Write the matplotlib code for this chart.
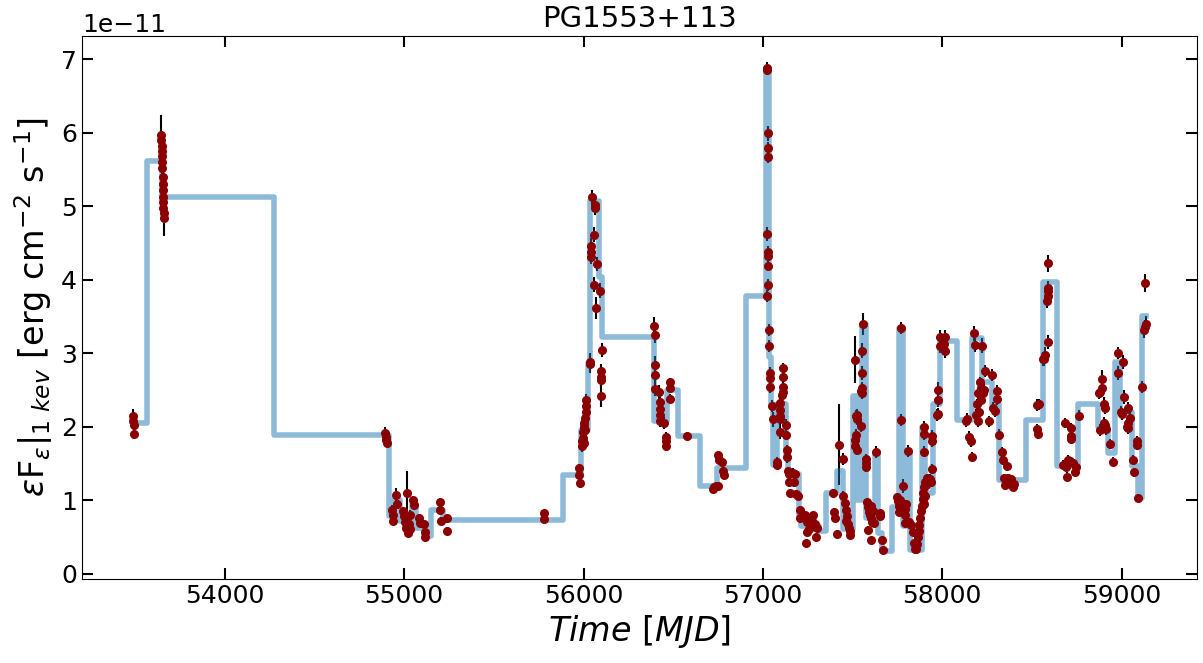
import numpy as np
import matplotlib
matplotlib.use("Agg")
import matplotlib.pyplot as plt

# curva de luz PG1553+113, flujo en unidades de 1e-11 erg cm^-2 s^-1
tiempo = [53488, 53490, 53492, 53494,
          53646, 53647, 53648, 53649, 53650, 53651, 53652, 53653, 53654, 53655, 53656, 53657, 53658, 53659, 53660,
          54896, 54898, 54900, 54902,
          54934, 54936, 54938, 54956, 54958, 54995, 55000, 55005, 55010, 55015, 55018, 55020, 55025, 55030, 55035,
          55051, 55053, 55085, 55088, 55113, 55115, 55117, 55200, 55201, 55203, 55237, 55238,
          55778, 55781,
          55976, 55977, 55978, 55990, 55993, 55996, 55999, 56000, 56002, 56005, 56008, 56010, 56012, 56014, 56016,
          56036, 56037, 56042, 56043, 56044, 56049, 56059, 56060, 56062, 56064, 56066, 56071, 56077, 56092, 56097,
          56098, 56099, 56100, 56105,
          56395, 56396, 56397, 56398, 56399, 56423, 56425, 56428, 56426, 56424, 56450, 56458, 56459, 56460, 56480,
          56482, 56481, 56579,
          56722, 56728, 56740, 56752, 56752, 56756, 56774, 56780, 56782,
          57021, 57022, 57030, 57030, 57030, 57025, 57028, 57027, 57027, 57029, 57021, 57035, 57035,
          57040, 57041, 57040, 57052, 57058, 57077, 57079, 57093, 57096, 57097, 57098, 57095, 57105, 57110, 57112,
          57114, 57113, 57129, 57130, 57133, 57134, 57140, 57148, 57170, 57180, 57148, 57175, 57150, 57185, 57195,
          57205, 57208,
          57235, 57245, 57260, 57280, 57275, 57290, 57300, 57245, 57255, 57238, 57295,
          57389, 57398, 57400, 57415, 57426, 57445, 57444, 57455, 57462, 57468, 57465, 57475, 57482, 57488, 57485,
          57513, 57520, 57523, 57526, 57545, 57518, 57516, 57514, 57522, 57546, 57550, 57552, 57551, 57553, 57560,
          57573, 57574, 57575,
          57582, 57586, 57590, 57595, 57600, 57605, 57610, 57615, 57620, 57588, 57605, 57630, 57651, 57653, 57664,
          57670,
          57772, 57772, 57783, 57807, 57750, 57755, 57765, 57760, 57758, 57790, 57800, 57795, 57793, 57815, 57825,
          57835, 57842, 57848, 57852, 57858, 57865, 57870, 57868, 57875, 57880, 57885, 57890, 57895, 57900, 57905,
          57910, 57915, 57905, 57898, 57900, 57900, 57898, 57940, 57945, 57940, 57930, 57935,
          57969, 57974, 57978, 57978, 57987, 58015, 57985, 58010, 58018,
          58132, 58140, 58150, 58158, 58164, 58178, 58183, 58220, 58238, 58208, 58215, 58200, 58225, 58232, 58218,
          58193, 58188, 58197, 58205, 58275, 58262, 58285, 58292, 58307, 58307,
          58318, 58333, 58336, 58362, 58345, 58365, 58375, 58385, 58350, 58395, 58400,
          58530, 58537, 58530, 58536, 58560, 58565, 58572, 58591, 58585, 58588, 58590, 58589, 58591,
          58684, 58715, 58718, 58720, 58675, 58690, 58700, 58710, 58728, 58745, 58742, 58695, 58764,
          58875, 58880, 58888, 58892, 58900, 58905, 58900, 58906, 58910, 58880, 58935, 58953, 58981, 58981, 59009,
          59013, 58998, 59000, 59037, 59035, 59037, 59032, 59048, 59066, 59068, 59084, 59084, 59092, 59115, 59130,
          59125, 59132, 59135]

flujo = [2.14, 2.08, 2.02, 1.90,
         5.97, 5.90, 5.82, 5.75, 5.68, 5.60, 5.52, 5.40, 5.30, 5.22, 5.12, 5.05, 4.98, 4.90, 4.84,
         1.91, 1.86, 1.82, 1.78,
         0.87, 0.80, 0.72, 1.07, 0.95, 0.85, 0.78, 0.70, 0.62, 0.75, 1.09, 0.55, 0.68, 0.80, 0.60,
         1.00, 0.93, 0.75, 0.69, 0.68, 0.57, 0.50, 0.97, 0.86, 0.72, 0.75, 0.58,
         0.82, 0.74,
         1.43, 1.34, 1.23, 1.73, 1.80, 1.85, 1.92, 1.78, 2.00, 2.05, 2.12, 1.95, 2.20, 2.28, 2.36,
         2.88, 2.85, 4.45, 4.38, 4.31, 5.12, 4.61, 3.93, 4.98, 5.02, 5.00, 3.61, 4.21, 3.85, 2.75,
         2.68, 2.64, 2.41, 3.04,
         3.37, 3.24, 2.84, 2.70, 2.51, 2.47, 2.34, 2.24, 2.16, 2.08, 2.05, 1.86, 1.80, 1.73, 2.60,
         2.52, 2.38, 1.87,
         1.15, 1.18, 1.19, 1.19, 1.61, 1.55, 1.52, 1.40, 1.34,
         6.88, 6.85, 5.99, 5.79, 5.67, 4.62, 4.38, 4.32, 4.19, 3.93, 3.78, 3.31, 3.10,
         2.73, 2.66, 2.54, 2.28, 2.10, 1.48, 1.52, 1.93, 2.32, 2.23, 2.14, 2.10, 2.43, 2.47, 2.54,
         2.79, 2.67, 2.02, 1.89, 1.68, 1.58, 1.39, 1.36, 1.37, 1.35, 1.24, 1.24, 1.10, 1.08, 1.05,
         0.87, 0.75,
         0.80, 0.70, 0.74, 0.80, 0.72, 0.68, 0.62, 0.57, 0.60, 0.42, 0.50,
         1.09, 0.84, 0.76, 0.54, 1.75, 1.56, 1.06, 0.96, 0.87, 0.78, 0.72, 0.68, 0.62, 0.58, 0.53,
         2.91, 2.14, 2.10, 2.16, 2.01, 1.89, 1.82, 1.74, 1.68, 2.49, 2.52, 2.45, 3.03, 2.73, 3.40,
         1.56, 1.50, 1.45,
         0.97, 0.90, 0.84, 0.80, 0.92, 0.75, 0.70, 0.85, 0.69, 0.59, 0.46, 1.65, 0.82, 0.78, 0.46,
         0.32,
         3.34, 2.09, 1.19, 1.67, 1.04, 0.98, 1.00, 0.92, 0.84, 0.88, 0.95, 0.80, 0.69, 0.70, 0.66,
         0.56, 0.42, 0.33, 0.33, 0.40, 0.50, 0.58, 0.66, 0.75, 0.85, 0.92, 1.02, 1.10, 1.18, 1.25,
         1.20, 1.30, 1.05, 0.95, 2.00, 1.90, 1.66, 1.87, 1.80, 1.42, 1.29, 1.25,
         2.16, 2.17, 2.50, 2.36, 3.22, 3.22, 3.10, 3.12, 3.03,
         2.07, 2.10, 1.86, 1.80, 1.59, 3.27, 3.11, 3.10, 2.76, 2.60, 2.53, 2.45, 2.45, 2.50, 2.36,
         2.30, 2.16, 2.08, 2.20, 2.70, 2.07, 2.25, 2.21, 2.49, 2.37,
         1.89, 1.65, 1.55, 1.46, 1.30, 1.30, 1.25, 1.28, 1.20, 1.18, 1.22,
         2.29, 2.30, 1.96, 1.90, 2.92, 2.92, 2.98, 3.15, 3.71, 3.78, 3.85, 3.88, 4.22,
         2.05, 1.98, 1.83, 1.87, 1.48, 1.45, 1.55, 1.53, 1.50, 1.45, 1.38, 1.32, 2.15,
         2.45, 2.47, 2.52, 2.65, 2.30, 2.25, 2.05, 2.02, 1.97, 1.95, 1.76, 1.52, 3.00, 2.73, 2.88,
         2.40, 2.20, 2.17, 2.25, 2.05, 1.98, 2.00, 2.12, 1.55, 1.38, 1.80, 1.75, 1.03, 2.54, 3.95,
         3.31, 3.35, 3.40]

err_flujo = [0.10, 0.08, 0.08, 0.07,
             0.27, 0.12, 0.12, 0.10, 0.10, 0.10, 0.10, 0.10, 0.10, 0.10, 0.10, 0.10, 0.10, 0.10, 0.25,
             0.08, 0.06, 0.06, 0.06,
             0.06, 0.06, 0.05, 0.10, 0.06, 0.06, 0.06, 0.05, 0.05, 0.06, 0.30, 0.05, 0.05, 0.06, 0.05,
             0.06, 0.06, 0.05, 0.05, 0.05, 0.05, 0.05, 0.06, 0.05, 0.05, 0.05, 0.05,
             0.05, 0.05,
             0.06, 0.06, 0.06, 0.07, 0.07, 0.07, 0.07, 0.07, 0.08, 0.08, 0.08, 0.08, 0.08, 0.08, 0.08,
             0.12, 0.12, 0.12, 0.10, 0.10, 0.10, 0.10, 0.10, 0.10, 0.10, 0.10, 0.15, 0.10, 0.10, 0.10,
             0.10, 0.10, 0.15, 0.10,
             0.12, 0.10, 0.12, 0.12, 0.10, 0.10, 0.10, 0.08, 0.08, 0.08, 0.08, 0.06, 0.06, 0.06, 0.06,
             0.06, 0.06, 0.06,
             0.05, 0.05, 0.05, 0.05, 0.06, 0.06, 0.06, 0.06, 0.06,
             0.08, 0.06, 0.10, 0.08, 0.08, 0.10, 0.08, 0.08, 0.08, 0.08, 0.08, 0.08, 0.08,
             0.08, 0.08, 0.08, 0.08, 0.10, 0.06, 0.06, 0.10, 0.08, 0.08, 0.08, 0.08, 0.08, 0.08, 0.08,
             0.08, 0.08, 0.08, 0.08, 0.07, 0.07, 0.06, 0.06, 0.06, 0.06, 0.06, 0.06, 0.05, 0.05, 0.05,
             0.05, 0.05,
             0.05, 0.05, 0.05, 0.05, 0.05, 0.05, 0.05, 0.05, 0.05, 0.04, 0.04,
             0.06, 0.05, 0.05, 0.05, 0.55, 0.08, 0.06, 0.05, 0.05, 0.05, 0.05, 0.05, 0.05, 0.05, 0.05,
             0.32, 0.08, 0.08, 0.08, 0.08, 0.08, 0.08, 0.07, 0.07, 0.08, 0.08, 0.08, 0.10, 0.10, 0.15,
             0.07, 0.07, 0.07,
             0.05, 0.05, 0.05, 0.05, 0.05, 0.05, 0.05, 0.05, 0.05, 0.05, 0.04, 0.08, 0.05, 0.05, 0.04,
             0.04,
             0.08, 0.08, 0.10, 0.08, 0.05, 0.05, 0.05, 0.05, 0.05, 0.05, 0.05, 0.05, 0.05, 0.04, 0.04,
             0.04, 0.04, 0.04, 0.04, 0.04, 0.04, 0.05, 0.05, 0.05, 0.05, 0.05, 0.05, 0.05, 0.05, 0.06,
             0.06, 0.06, 0.05, 0.05, 0.08, 0.08, 0.08, 0.08, 0.08, 0.07, 0.07, 0.07,
             0.08, 0.08, 0.10, 0.10, 0.10, 0.10, 0.10, 0.10, 0.10,
             0.08, 0.08, 0.08, 0.08, 0.07, 0.10, 0.10, 0.10, 0.08, 0.08, 0.08, 0.08, 0.08, 0.08, 0.08,
             0.08, 0.08, 0.08, 0.08, 0.08, 0.08, 0.08, 0.08, 0.08, 0.08,
             0.07, 0.07, 0.07, 0.06, 0.06, 0.06, 0.06, 0.06, 0.06, 0.06, 0.06,
             0.08, 0.08, 0.07, 0.07, 0.10, 0.10, 0.10, 0.10, 0.10, 0.10, 0.10, 0.10, 0.12,
             0.07, 0.07, 0.07, 0.07, 0.06, 0.06, 0.06, 0.06, 0.06, 0.06, 0.06, 0.06, 0.07,
             0.08, 0.08, 0.08, 0.12, 0.10, 0.08, 0.08, 0.08, 0.08, 0.08, 0.07, 0.06, 0.08, 0.10, 0.10,
             0.10, 0.08, 0.08, 0.08, 0.08, 0.08, 0.08, 0.08, 0.06, 0.06, 0.07, 0.07, 0.05, 0.08, 0.12,
             0.10, 0.10, 0.10]

# bloques bayesianos (bordes y nivel de cada bloque)
bordes = [53488, 53565, 53649, 54276, 54917, 54945, 54975, 55045, 55065, 55115, 55150, 55215, 55884, 55984,
          56025, 56036, 56088, 56101, 56395, 56464, 56528, 56649, 56745, 56904, 57019, 57035, 57045, 57059,
          57079, 57128, 57140, 57200, 57215, 57310, 57352, 57411, 57445, 57503, 57526, 57550, 57575, 57625,
          57640, 57662, 57718, 57760, 57783, 57801, 57820, 57885, 57904, 57946, 57987, 58080, 58164, 58220,
          58275, 58318, 58465, 58560, 58638, 58758, 58870, 58925, 58963, 58991, 59056, 59093, 59111, 59135]
bloques = [2.05, 5.62, 5.13, 1.88, 0.78, 1.00, 0.72, 0.95, 0.62, 0.51, 0.86, 0.73, 1.34, 1.95, 2.87, 5.07,
           4.04, 3.22, 2.07, 2.50, 1.87, 1.19, 1.43, 3.78, 6.88, 2.95, 2.30, 1.48, 2.30, 1.62, 1.35, 0.78,
           0.65, 0.58, 1.10, 1.40, 0.60, 2.41, 1.00, 3.40, 0.75, 1.66, 0.55, 0.30, 0.91, 3.34, 0.65, 1.66,
           0.32, 2.00, 1.10, 2.30, 3.16, 2.09, 3.20, 2.60, 2.30, 1.27, 2.09, 3.97, 1.46, 2.30, 2.00, 1.64,
           2.88, 2.20, 1.46, 1.03, 3.50]

t = np.array(tiempo)
f = np.array(flujo) * 1e-11
ef = np.array(err_flujo) * 1e-11
bb = np.array(bloques + [bloques[-1]]) * 1e-11

fig = plt.figure(figsize=(12.03, 6.63), dpi=100)
ax = fig.add_axes([0.068, 0.127, 0.927, 0.819])

ax.errorbar(t, f, yerr=ef, fmt="none", ecolor="black", elinewidth=1.5, zorder=1)
ax.step(bordes, bb, where="post", color="#1f77b4", alpha=0.5, lw=4, zorder=2)
ax.plot(t, f, "o", color="darkred", markersize=5.5, zorder=3)

ax.set_xlim(53203, 59420)
ax.set_ylim(-0.072e-11, 7.317e-11)
ax.set_title("PG1553+113", fontsize=21)
ax.set_xlabel(r"$Time\ [MJD]$", fontsize=24)
ax.set_ylabel(r"$\varepsilon$F$_{\varepsilon}|_{1\ kev}$ [erg cm$^{-2}$ s$^{-1}$]", fontsize=24)
ax.tick_params(direction="in", top=True, right=True, labelsize=18, length=8, width=1.5)
ax.yaxis.get_offset_text().set_fontsize(18)

fig.savefig("out.png", dpi=100)
